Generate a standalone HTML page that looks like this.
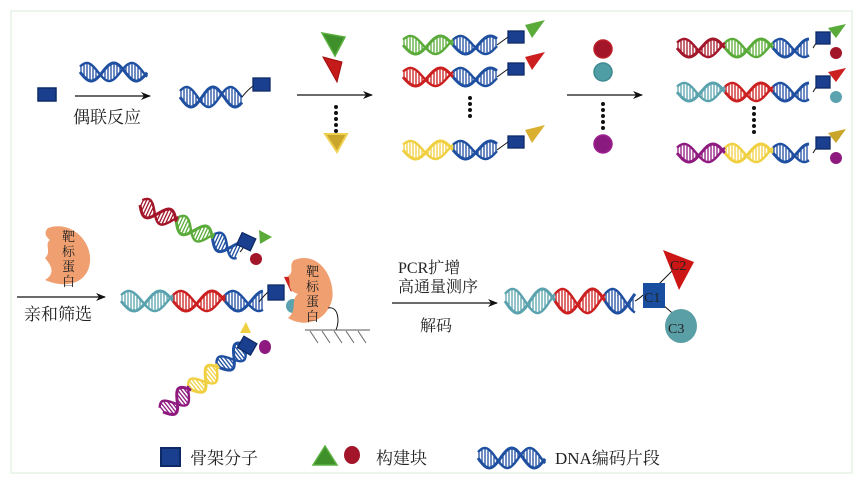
<!DOCTYPE html>
<html><head><meta charset="utf-8">
<style>
html,body{margin:0;padding:0;background:#fff;}
svg{display:block;}
text{font-family:"Liberation Serif","Noto Serif CJK SC","Noto Sans CJK SC",serif;fill:#222;}
</style></head>
<body>
<svg id="s" width="866" height="486" viewBox="0 0 866 486" xmlns="http://www.w3.org/2000/svg">
<defs>
<marker id="ah" markerWidth="10" markerHeight="8" refX="9" refY="4" orient="auto" markerUnits="userSpaceOnUse">
<path d="M0,0 L10,4 L0,8 L3,4 Z" fill="#111"/></marker>
</defs>
<rect x="11" y="11" width="841" height="462" fill="#fff" stroke="#e6f2e6" stroke-width="1.5"/>
<g id="dyn"></g>

<rect x="38" y="88" width="18" height="13" fill="#1a3f8f" stroke="#0d2a66" stroke-width="1.5"/>
<line x1="75" y1="96" x2="150" y2="96" stroke="#111" stroke-width="1.2" marker-end="url(#ah)"/>
<text x="73" y="123" font-size="17">偶联反应</text>
<line x1="297" y1="95" x2="372" y2="95" stroke="#111" stroke-width="1.2" marker-end="url(#ah)"/>
<polygon points="322,33 345,37 335,56" fill="#3f8f2a" stroke="#5ab040" stroke-width="1.5"/>
<polygon points="323,57 342,62 337,82" fill="#c41a1a" stroke="#a01010" stroke-width="1"/>
<polygon points="325,134 347,134 337,152" fill="#c9a52a" stroke="#efd050" stroke-width="2"/>
<g fill="#111"><circle cx="336" cy="107" r="2"/><circle cx="336" cy="113" r="2"/><circle cx="336" cy="119" r="2"/><circle cx="336" cy="125" r="2"/><circle cx="336" cy="131" r="2"/></g>
<g fill="#111"><circle cx="470" cy="98" r="2"/><circle cx="470" cy="104" r="2"/><circle cx="470" cy="110" r="2"/><circle cx="470" cy="116" r="2"/></g>
<line x1="567" y1="95" x2="642" y2="95" stroke="#111" stroke-width="1.2" marker-end="url(#ah)"/>
<circle cx="603" cy="49" r="9" fill="#a3162a" stroke="#c0202a" stroke-width="1.5"/>
<circle cx="603" cy="72" r="9" fill="#4f9ea6" stroke="#3f8a92" stroke-width="1.5"/>
<circle cx="603" cy="144" r="9" fill="#8a1a7e" stroke="#a02090" stroke-width="1.5"/>
<g fill="#111"><circle cx="603" cy="104" r="2"/><circle cx="603" cy="110" r="2"/><circle cx="603" cy="116" r="2"/><circle cx="603" cy="122" r="2"/><circle cx="603" cy="128" r="2"/></g>
<g fill="#111"><circle cx="754" cy="108" r="2"/><circle cx="754" cy="114" r="2"/><circle cx="754" cy="120" r="2"/><circle cx="754" cy="126" r="2"/><circle cx="754" cy="132" r="2"/></g>

<path d="M48,228 C70,220 92,240 90,262 C88,282 68,290 45,280 C58,272 48,262 45,258 C52,252 44,244 50,240 C45,236 44,232 48,228Z" fill="#f0a070"/>
<g font-size="13"><text x="62" y="241">靶</text><text x="62" y="256">标</text><text x="62" y="271">蛋</text><text x="62" y="286">白</text></g>
<line x1="17" y1="297" x2="105" y2="297" stroke="#111" stroke-width="1.2" marker-end="url(#ah)"/>
<text x="24" y="320" font-size="17">亲和筛选</text>

<path d="M294,260 C320,250 336,280 332,300 C326,322 304,328 288,318 C298,310 290,300 298,294 C285,290 292,282 288,276 C295,272 288,266 294,260Z" fill="#f0a070"/>
<g font-size="13"><text x="306" y="276">靶</text><text x="306" y="291">标</text><text x="306" y="306">蛋</text><text x="306" y="321">白</text></g>
<path d="M328,308 C338,306 340,320 336,330" fill="none" stroke="#111" stroke-width="1"/>
<line x1="305" y1="330" x2="370" y2="330" stroke="#555" stroke-width="1"/>
<g stroke="#666" stroke-width="1"><line x1="310" y1="331" x2="318" y2="343"/><line x1="322" y1="331" x2="330" y2="343"/><line x1="334" y1="331" x2="342" y2="343"/><line x1="346" y1="331" x2="354" y2="343"/><line x1="358" y1="331" x2="366" y2="343"/></g>

<line x1="392" y1="303" x2="497" y2="303" stroke="#111" stroke-width="1.2" marker-end="url(#ah)"/>
<text x="398" y="273" font-size="16">PCR扩增</text>
<text x="398" y="292" font-size="16">高通量测序</text>
<text x="420" y="331" font-size="16">解码</text>

<line x1="650" y1="293" x2="675" y2="268" stroke="#111" stroke-width="1"/>
<line x1="655" y1="298" x2="678" y2="318" stroke="#111" stroke-width="1"/>
<rect x="643" y="283" width="22" height="25" fill="#1a4f9f"/>
<polygon points="663,250 694,262 679,290" fill="#cc1616"/>
<ellipse cx="681" cy="326" rx="16" ry="17" fill="#5a9ea6"/>
<text x="644" y="302" font-size="14">C1</text>
<text x="670" y="270" font-size="14">C2</text>
<text x="668" y="333" font-size="14">C3</text>

<rect x="161" y="448" width="19" height="18" fill="#1a3f8f" stroke="#0d2a66" stroke-width="2"/>
<text x="190" y="464" font-size="17">骨架分子</text>
<polygon points="313,465 325,446 337,465" fill="#3f8f2a" stroke="#5ab040" stroke-width="1.5"/>
<ellipse cx="352" cy="455" rx="8" ry="9" fill="#a3162a"/>
<text x="376" y="464" font-size="17">构建块</text>
<text x="555" y="464" font-size="17">DNA编码片段</text>
</svg>
<script>
var C={b:"#1f4fa0",g:"#5aab3a",r:"#cc1f1f",dr:"#a3162a",t:"#5aa3ae",y:"#f0d040",p:"#8e1a80"};
var out="";
function helix(x,y,ang,segs,amp,period){
  var s='<g transform="translate('+x+','+y+') rotate('+ang+')">';
  var pos=0,ph=period*0.1;
  segs.forEach(function(sg){
    var col=C[sg[0]],len=sg[1];
    var p1="",p2="";
    for(var i=0;i<=len;i+=1){
      var xx=pos+i,v=amp*Math.sin(2*Math.PI*xx/period),w=amp*Math.sin(2*Math.PI*(xx+ph)/period+Math.PI);
      p1+=(i?"L":"M")+xx.toFixed(1)+","+v.toFixed(1);
      p2+=(i?"L":"M")+xx.toFixed(1)+","+w.toFixed(1);
      if(i%3==1&&Math.abs(v-w)>3){var lo=Math.min(v,w)+1.2,hi=Math.max(v,w)-1.2; s+='<line x1="'+xx+'" y1="'+lo.toFixed(1)+'" x2="'+xx+'" y2="'+hi.toFixed(1)+'" stroke="'+col+'" stroke-width="1.3"/>';}
    }
    s+='<path d="'+p1+'" fill="none" stroke="'+col+'" stroke-width="3"/>';
    s+='<path d="'+p2+'" fill="none" stroke="'+col+'" stroke-width="2.4"/>';
    pos+=len;
  });
  s+='</g>';out+=s;return pos;
}
function sq(x,y,w,h,rot){out+='<rect x="'+x+'" y="'+y+'" width="'+(w||15)+'" height="'+(h||12)+'" fill="#1a3f8f" stroke="#0d2a66" stroke-width="1.3"'+(rot?' transform="rotate('+rot+' '+(x+7)+' '+(y+6)+')"':'')+'/>';}
function ln(a,b,c,d){out+='<path d="M'+a+','+b+' Q'+((a+c)/2)+','+(d+4)+' '+c+','+d+'" fill="none" stroke="#111" stroke-width="1"/>';}
function tri(pts,f){out+='<polygon points="'+pts+'" fill="'+f+'"/>';}
function circ(cx,cy,r,f){out+='<circle cx="'+cx+'" cy="'+cy+'" r="'+r+'" fill="'+f+'"/>';}
helix(80,72,0,[["b",67]],9,45);
helix(180,97,0,[["b",62]],10,44);ln(242,97,253,86);sq(253,78,17,13);
var rows=[[43,"g"],[75,"r"],[148,"y"]];
rows.forEach(function(r){
  var y=r[0];
  helix(403,y+2,0,[[r[1],50],["b",44]],9,50);
  ln(497,y+2,508,y-6);sq(508,y-12,16,12);
  tri("525,"+(y-18)+" 545,"+(y-23)+" 532,"+(y-5),r[1]=="y"?"#d9b030":C[r[1]]);
});
var rows5=[[48,"dr","g","g","dr"],[92,"t","r","r","t"],[153,"p","y","#c9a52a","p"]];
rows5.forEach(function(r){
  var y=r[0];
  helix(677,y,0,[[r[1],48],[r[2],48],["b",36]],9,48);
  ln(813,y,818,y-8);sq(816,y-16,14,12);
  tri("828,"+(y-20)+" 846,"+(y-24)+" 836,"+(y-10),r[3].charAt(0)=="#"?r[3]:C[r[3]]);
  circ(836,y+5,6,C[r[4]]);
});
helix(140,205,25,[["dr",40],["g",40],["b",30]],9,40);
ln(240,252,244,246);sq(239,235,15,13,25);
tri("259,230 272,237 260,244",C.g);circ(256,259,6,C.dr);
helix(121,301,0,[["t",52],["r",52],["b",38]],10,52);
ln(259,302,268,292);sq(268,285,16,15);
tri("284,277 300,276 291,292",C.r);circ(293,306,7,C.t);
helix(163,412,-38,[["p",36],["y",36],["b",36]],9,36);
ln(248,346,247,350);sq(240,339,15,13,30);
tri("240,333 246,322 251,333","#f0d040");
out+='<ellipse cx="265" cy="347" rx="6" ry="7" fill="#8e1a80"/>';
helix(505,301,0,[["t",50],["r",50],["b",30]],12,50);
ln(635,301,643,295);
helix(478,458,0,[["b",67]],10,45);
document.getElementById("dyn").innerHTML=out;
</script>
</body></html>
